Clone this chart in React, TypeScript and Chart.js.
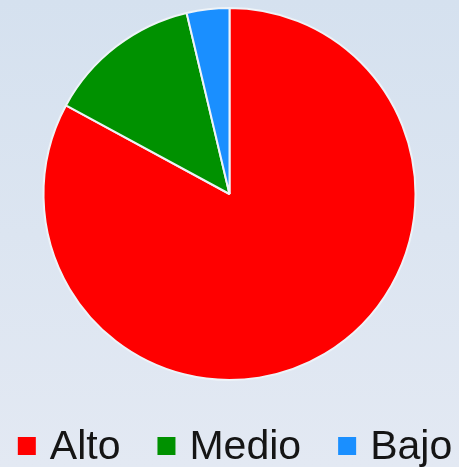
import React, { useEffect, useRef } from "react";
import { Chart, registerables } from "chart.js";

Chart.register(...registerables);

const categories = ["Alto", "Medio", "Bajo"];
const values = [82.9, 13.4, 3.7];
const colors = ["#ff0000", "#009100", "#1a8fff"];

const legendPlugin = {
  id: "customLegend",
  afterDraw(chart: any) {
    const ctx = chart.ctx as CanvasRenderingContext2D;
    const labels: string[] = chart.data.labels;
    const bg: string[] = chart.data.datasets[0].backgroundColor;
    ctx.save();
    ctx.font = '41px "Liberation Sans", Arial, sans-serif';
    ctx.textBaseline = "alphabetic";
    ctx.textAlign = "left";
    const box = 18;
    const gapBoxText = 14;
    const gapItems = 37;
    const widths = labels.map((l) => ctx.measureText(l).width);
    const total =
      widths.reduce((a, b) => a + b, 0) +
      labels.length * (box + gapBoxText) +
      (labels.length - 1) * gapItems;
    let x = 235 - total / 2;
    const baseline = 459;
    labels.forEach((l, i) => {
      ctx.fillStyle = bg[i];
      ctx.fillRect(x, 437, box, box);
      x += box + gapBoxText;
      ctx.fillStyle = "#151515";
      ctx.fillText(l, x, baseline);
      x += widths[i] + gapItems;
    });
    ctx.restore();
  },
};

export default function App() {
  const ref = useRef<HTMLCanvasElement>(null);
  useEffect(() => {
    if (!ref.current) return;
    const chart = new Chart(ref.current, {
      type: "pie",
      data: {
        labels: categories,
        datasets: [
          {
            data: values,
            backgroundColor: colors,
            borderColor: "#eef3f8",
            borderWidth: 2,
          },
        ],
      },
      options: {
        animation: false,
        responsive: false,
        layout: { padding: { top: 7, bottom: 86, left: 0, right: 0 } },
        plugins: {
          legend: { display: false },
          tooltip: { enabled: false },
        },
      },
      plugins: [legendPlugin],
    });
    return () => chart.destroy();
  }, []);
  return (
    <div
      style={{
        position: "fixed",
        left: 0,
        top: 0,
        width: 459,
        height: 467,
        background: "linear-gradient(to bottom, #d5e1ef, #e3e9f3)",
      }}
    >
      <canvas ref={ref} width={459} height={467} style={{ display: "block" }} />
    </div>
  );
}
